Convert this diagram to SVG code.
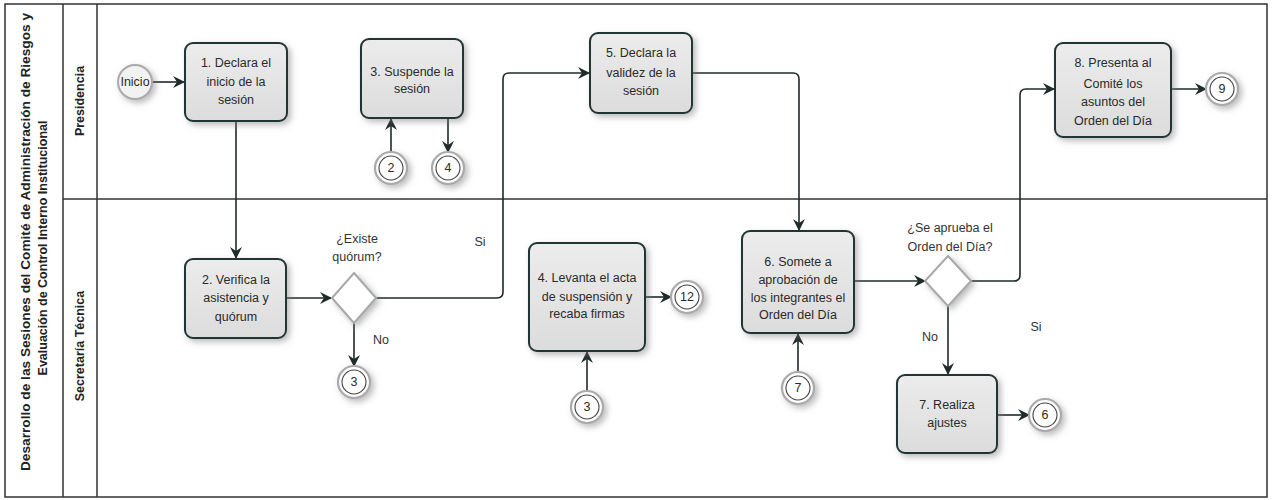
<svg xmlns="http://www.w3.org/2000/svg" width="1274" height="500" viewBox="0 0 1274 500">
<style>
.frame{fill:none;stroke:#333;stroke-width:1.5}
.box{fill:url(#g);stroke:#243434;stroke-width:2;filter:url(#sh)}
.t{font-family:"Liberation Sans",Arial,sans-serif;font-size:12.5px;fill:#2a2a2a;text-anchor:middle}
.lbl{font-family:"Liberation Sans",Arial,sans-serif;font-size:12.5px;fill:#333;text-anchor:middle}
.hdr{font-family:"Liberation Sans",Arial,sans-serif;font-size:12.5px;font-weight:bold;fill:#222;text-anchor:middle}
.dia{fill:#fff;stroke:#a8a8a8;stroke-width:2;filter:url(#sh)}
.co{fill:#fff;stroke:#aaa;stroke-width:2.2;filter:url(#sh)}
.ci{fill:#fff;stroke:#444;stroke-width:1.1}
.cn{fill:none;stroke:#1f2a2a;stroke-width:1.6;marker-end:url(#a)}
</style>
<defs>
<linearGradient id="g" x1="0" y1="0" x2="0" y2="1"><stop offset="0" stop-color="#ececec"/><stop offset="1" stop-color="#dcdcdc"/></linearGradient>
<filter id="sh" x="-20%" y="-20%" width="150%" height="150%"><feDropShadow dx="3" dy="3" stdDeviation="3" flood-color="#777" flood-opacity="0.5"/></filter>
<marker id="a" viewBox="0 0 12 12" refX="11" refY="6" markerWidth="12" markerHeight="12" markerUnits="userSpaceOnUse" orient="auto"><path d="M0,0 L12,6 L0,12 L4,6 z" fill="#1f2a2a"/></marker>
</defs>
<rect x="0" y="0" width="1274" height="500" fill="#fff"/>
<g id="pool">
<rect class="frame" x="5" y="4" width="1262" height="493"/>
<line class="frame" x1="63" y1="4" x2="63" y2="497"/>
<line class="frame" x1="97" y1="4" x2="97" y2="497"/>
<line class="frame" x1="63" y1="199" x2="1267" y2="199"/>
<text class="hdr" transform="translate(30,242) rotate(-90)" textLength="458" lengthAdjust="spacingAndGlyphs">Desarrollo  de las Sesiones del Comité de Administración de Riesgos y</text>
<text class="hdr" transform="translate(47,248) rotate(-90)">Evaluación de Control Interno Institucional</text>
<text class="hdr" transform="translate(84,101) rotate(-90)">Presidencia</text>
<text class="hdr" transform="translate(84,346) rotate(-90)">Secretaría Técnica</text>
</g>
<g id="connectors">
<path class="cn" d="M152,82 H184"/>
<path class="cn" d="M236,121 V258"/>
<path class="cn" d="M286,298 H331"/>
<path class="cn" d="M376,298 H497 Q503,298 503,292 V79 Q503,73 509,73 H589"/>
<path class="cn" d="M354,323 V366"/>
<path class="cn" d="M391,152 V119"/>
<path class="cn" d="M448,118 V152"/>
<path class="cn" d="M587,391 V352"/>
<path class="cn" d="M645,297 H671"/>
<path class="cn" d="M692,73 H793 Q799,73 799,79 V230"/>
<path class="cn" d="M798,372 V334"/>
<path class="cn" d="M854,281 H925"/>
<path class="cn" d="M971,281 H1014 Q1020,281 1020,275 V95 Q1020,89 1026,89 H1054"/>
<path class="cn" d="M948,306 V374"/>
<path class="cn" d="M997,415 H1029"/>
<path class="cn" d="M1171,89 H1206"/>
</g>
<g id="inicio">
<circle cx="135" cy="82" r="17" fill="#f2f2f2" stroke="#aaa" stroke-width="2" filter="url(#sh)"/>
<text class="t" x="135" y="86" font-size="12">Inicio</text>
</g>
<g id="n1"><rect class="box" x="185" y="43" width="102" height="78" rx="8"/>
<text class="t" x="236" y="67">1. Declara el</text><text class="t" x="236" y="86">inicio de la</text><text class="t" x="236" y="104">sesión</text></g>
<g id="n3"><rect class="box" x="361" y="39" width="102" height="79" rx="8"/>
<text class="t" x="412" y="76">3. Suspende la</text><text class="t" x="412" y="93">sesión</text></g>
<g id="n5"><rect class="box" x="590" y="33" width="102" height="80" rx="8"/>
<text class="t" x="641" y="57">5. Declara la</text><text class="t" x="641" y="77">validez de la</text><text class="t" x="641" y="95">sesión</text></g>
<g id="n8"><rect class="box" x="1055" y="43" width="116" height="94" rx="8"/>
<text class="t" x="1113" y="67">8. Presenta al</text><text class="t" x="1113" y="88">Comité los</text><text class="t" x="1113" y="106">asuntos del</text><text class="t" x="1113" y="125">Orden del Día</text></g>
<g id="n2"><rect class="box" x="185" y="259" width="101" height="79" rx="8"/>
<text class="t" x="236" y="284">2. Verifica la</text><text class="t" x="236" y="302">asistencia y</text><text class="t" x="236" y="321">quórum</text></g>
<g id="d1"><path class="dia" d="M354,273 L376,298 L354,323 L332,298 Z"/>
<text class="lbl" x="357" y="243">¿Existe</text><text class="lbl" x="357" y="261">quórum?</text></g>
<text class="lbl" x="480" y="246">Si</text>
<text class="lbl" x="381" y="344">No</text>
<g id="n4"><rect class="box" x="529" y="243" width="116" height="108" rx="8"/>
<text class="t" x="587" y="282">4. Levanta el acta</text><text class="t" x="587" y="301">de suspensión y</text><text class="t" x="587" y="318">recaba firmas</text></g>
<g id="n6"><rect class="box" x="742" y="231" width="112" height="102" rx="8"/>
<text class="t" x="798" y="266">6. Somete a</text><text class="t" x="798" y="284">aprobación de</text><text class="t" x="798" y="302">los integrantes el</text><text class="t" x="798" y="319">Orden del Día</text></g>
<g id="d2"><path class="dia" d="M948,256 L971,281 L948,306 L925,281 Z"/>
<text class="lbl" x="950" y="232">¿Se aprueba el</text><text class="lbl" x="950" y="251">Orden del Día?</text></g>
<text class="lbl" x="930" y="341">No</text>
<text class="lbl" x="1036" y="331">Si</text>
<g id="n7"><rect class="box" x="897" y="375" width="100" height="78" rx="8"/>
<text class="t" x="947" y="409">7. Realiza</text><text class="t" x="947" y="427">ajustes</text></g>
<g id="c2"><circle class="co" cx="391" cy="168" r="16"/><circle class="ci" cx="391" cy="168" r="12"/><text class="t" x="391" y="172">2</text></g>
<g id="c4"><circle class="co" cx="448" cy="168" r="16"/><circle class="ci" cx="448" cy="168" r="12"/><text class="t" x="448" y="172">4</text></g>
<g id="c3a"><circle class="co" cx="354" cy="382" r="16"/><circle class="ci" cx="354" cy="382" r="12"/><text class="t" x="354" y="386">3</text></g>
<g id="c3b"><circle class="co" cx="587" cy="407" r="16"/><circle class="ci" cx="587" cy="407" r="12"/><text class="t" x="587" y="411">3</text></g>
<g id="c12"><circle class="co" cx="687" cy="297" r="16"/><circle class="ci" cx="687" cy="297" r="12"/><text class="t" x="687" y="301">12</text></g>
<g id="c7"><circle class="co" cx="798" cy="388" r="16"/><circle class="ci" cx="798" cy="388" r="12"/><text class="t" x="798" y="392">7</text></g>
<g id="c6"><circle class="co" cx="1045" cy="415" r="16"/><circle class="ci" cx="1045" cy="415" r="12"/><text class="t" x="1045" y="419">6</text></g>
<g id="c9"><circle class="co" cx="1222" cy="89" r="16"/><circle class="ci" cx="1222" cy="89" r="12"/><text class="t" x="1222" y="93">9</text></g>
</svg>
